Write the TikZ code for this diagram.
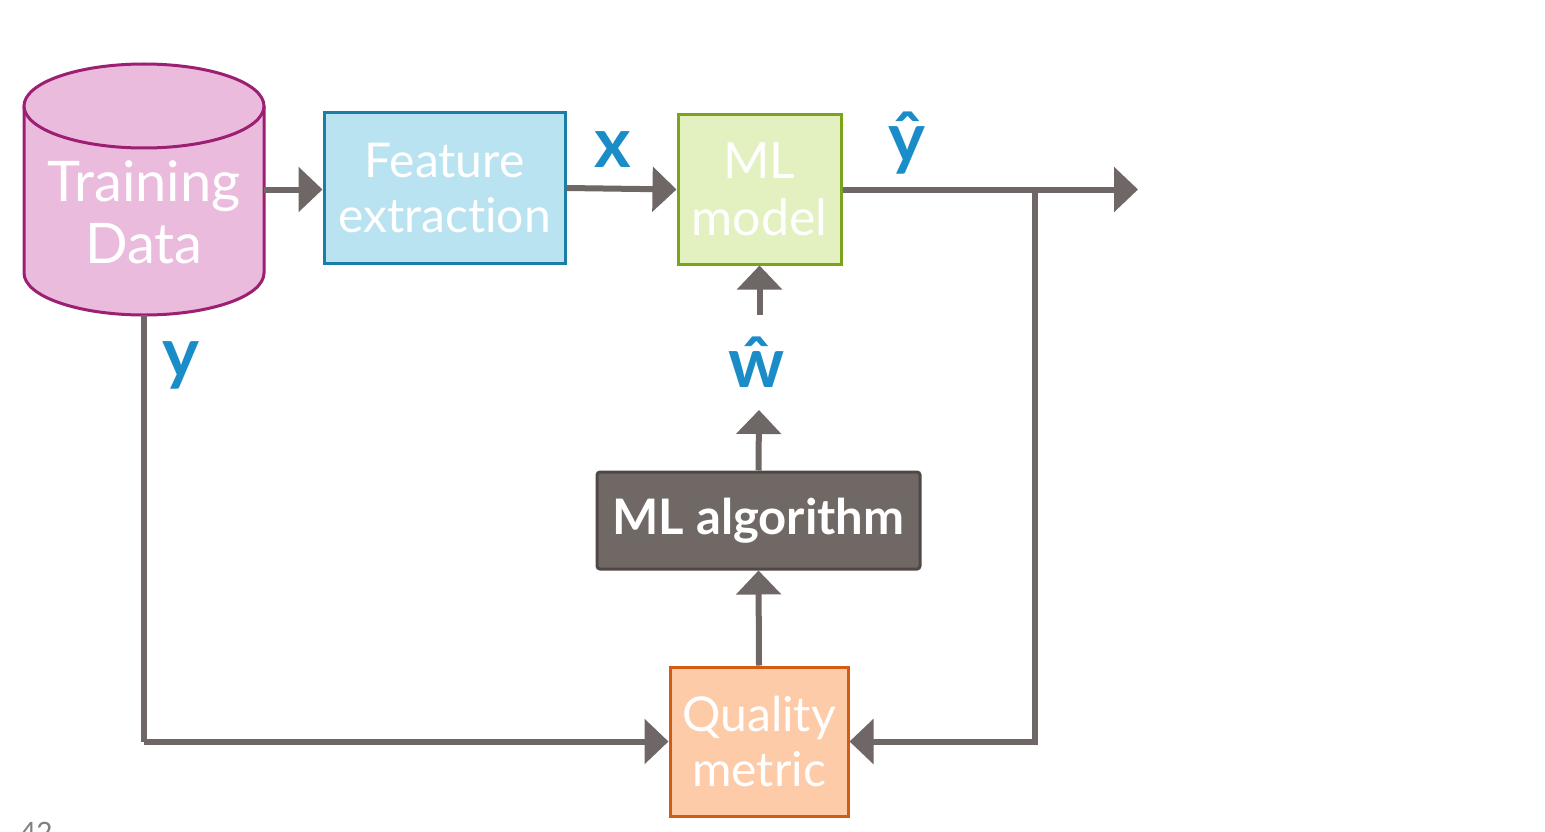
\documentclass[tikz,border=0pt]{standalone}
\usepackage{fontspec}
\setmainfont{Lato}[Ligatures={NoCommon,NoRare}]
\usetikzlibrary{arrows.meta,positioning}
\definecolor{arr}{HTML}{6E6765}
\definecolor{lblue}{HTML}{1A8DC8}
\definecolor{cylfill}{HTML}{EBBBDD}
\definecolor{cyldraw}{HTML}{9C1F73}
\definecolor{fefill}{HTML}{B9E3F1}
\definecolor{fedraw}{HTML}{1A7FA6}
\definecolor{mmfill}{HTML}{E3F0C0}
\definecolor{mmdraw}{HTML}{7BA41C}
\definecolor{alfill}{HTML}{706865}
\definecolor{aldraw}{HTML}{4F4846}
\definecolor{qmfill}{HTML}{FDCBA8}
\definecolor{qmdraw}{HTML}{D55A12}
\tikzset{
  boxnode/.style={draw, line width=3pt, inner sep=0pt, align=center, text=white,
    font=\fontsize{48}{55}\selectfont},
  conn/.style={draw=arr, line width=6pt, -{Triangle[width=44pt,length=24pt]}},
  plainconn/.style={draw=arr, line width=6pt},
  lbl/.style={text=lblue, font=\bfseries\fontsize{70}{70}\selectfont, inner sep=0pt},
}
\begin{document}
\begin{tikzpicture}[x=1pt,y=-1pt]
\useasboundingbox[fill=white] (0,0) rectangle (1545,832);
% cylinder
\fill[cylfill] (24,106) -- (24,273) arc[start angle=180,end angle=0,x radius=120,y radius=42] -- (264,106) arc[start angle=0,end angle=-180,x radius=120,y radius=42] -- cycle;
\draw[cyldraw,line width=3pt] (24,106) -- (24,273) arc[start angle=180,end angle=0,x radius=120,y radius=42] -- (264,106);
\draw[cyldraw,line width=3pt,fill=cylfill] (144,106) ellipse[x radius=120,y radius=42];
\node[minimum width=240pt, minimum height=251pt, inner sep=0pt, outer sep=0pt] (cyl) at (144,189.5) {};
\node[text=white, align=center, font=\fontsize{56}{62}\selectfont] (tdtext) at (144,212) {Training\\Data};
% boxes
\node[boxnode, fill=fefill, draw=fedraw, minimum width=241pt, minimum height=150pt] (fe) at (444.5,188) {Feature\\extraction};
\node[boxnode, fill=mmfill, draw=mmdraw, minimum width=163pt, minimum height=149pt, font=\fontsize{50}{57}\selectfont] (mm) at (759.5,189.5) {ML\\model};
\node[boxnode, fill=alfill, draw=aldraw, rounded corners=3pt, minimum width=323pt, minimum height=97pt, font=\bfseries\fontsize{49}{55}\selectfont] (al) at (758.5,520.5) {ML algorithm};
\node[boxnode, fill=qmfill, draw=qmdraw, minimum width=178pt, minimum height=149pt] (qm) at (759,741.5) {Quality\\metric};
% coordinates
\coordinate (yend) at (1138,189.5);
\coordinate (branch) at (1035,189.5);
\coordinate (wtip) at (759,410);
\coordinate (wstart) at (759.5,315);
% connectors
\draw[conn] (cyl.east) -- (fe.west |- cyl.east);
\draw[conn] (fe.east) -- (mm.west);
\draw[conn] (mm.east) -- (yend);
\draw[plainconn] (branch) -- (1035,741.5) -- ([xshift=24pt]qm.east);
\draw[conn] (1035,741.5) -- (qm.east);
\draw[plainconn] (cyl.south) -- (144,741.5);
\draw[conn] (144,741.5) -- (qm.west);
\draw[conn] (qm.north) -- (al.south);
\draw[conn] (al.north) -- (wtip);
\draw[conn] (wstart) -- (mm.south);
% labels
\node[lbl] (lx) at (613,150) {x};
\node[lbl] (lyhat) at (907,143) {ŷ};
\node[lbl] (lwhat) at (757,362) {ŵ};
\node[lbl] (ly) at (181,365) {y};
\node[text=gray, font=\fontsize{28}{28}\selectfont, anchor=north west, inner sep=0pt] (pg) at (20,822) {42};
\end{tikzpicture}
\end{document}
